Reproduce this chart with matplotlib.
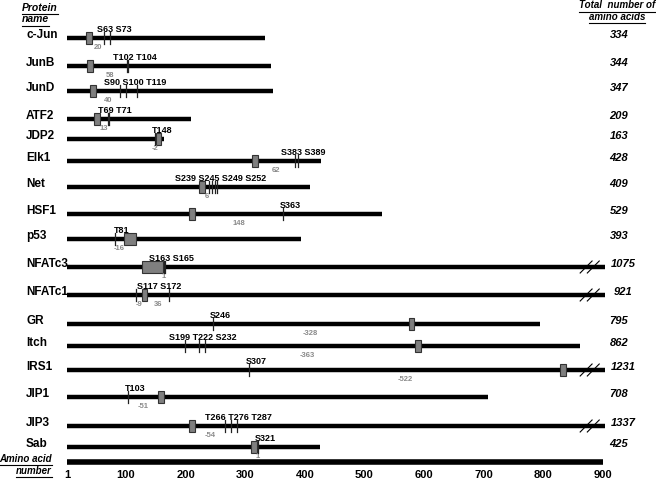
import matplotlib
matplotlib.use("Agg")
import matplotlib.pyplot as plt
from matplotlib.patches import Rectangle

plt.rcParams['font.family'] = ['Liberation Sans', 'DejaVu Sans']

# protein data
proteins = ['c-Jun', 'JunB', 'JunD', 'ATF2', 'JDP2', 'Elk1', 'Net', 'HSF1', 'p53',
            'NFATc3', 'NFATc1', 'GR', 'Itch', 'IRS1', 'JIP1', 'JIP3', 'Sab']
lengths = [334, 344, 347, 209, 163, 428, 409, 529, 393,
           1075, 921, 795, 862, 1231, 708, 1337, 425]
sites = [['S63', 'S73'], ['T102', 'T104'], ['S90', 'S100', 'T119'], ['T69', 'T71'],
         ['T148'], ['S383', 'S389'], ['S239', 'S245', 'S249', 'S252'], ['S363'],
         ['T81'], ['S163', 'S165'], ['S117', 'S172'], ['S246'],
         ['S199', 'T222', 'S232'], ['S307'], ['T103'], ['T266', 'T276', 'T287'], ['S321']]
# docking domain (start, end) in residues
domains = [(33, 43), (34, 44), (40, 50), (46, 56), (150, 159), (311, 321), (223, 233),
           (205, 215), (97, 117), (126, 162), (126, 136), (574, 584), (585, 595),
           (829, 839), (154, 164), (205, 215), (310, 320)]
# distance from domain to phosphosite: (site label, distance)
distances = [[('S63', 20)], [('T102', 58)], [('S90', 40)], [('T69', 13)], [('T148', -2)],
             [('S383', 62)], [('S239', 6)], [('S363', 148)], [('T81', -16)],
             [('S163', 1)], [('S117', -9), ('S172', 36)], [('S246', -328)],
             [('T222', -363)], [('S307', -522)], [('T103', -51)], [('T266', -54)],
             [('S321', 1)]]
axis_ticks = [1, 100, 200, 300, 400, 500, 600, 700, 800, 900]

# layout (pixel rows)
row_y = [38, 66, 91, 119, 139, 161, 187, 214, 239, 267, 295, 324, 346, 370, 397, 426, 447]
axis_y = 462
px = 0.596  # pixels per residue
x0 = 67     # pixel of residue 1
W, H = 656, 480

fig = plt.figure(figsize=(W / 100, H / 100), dpi=100)
ax = fig.add_axes([0, 0, 1, 1])
ax.set_xlim(1 - x0 / px, 1 + (W - x0) / px)
ax.set_ylim(H, 0)
ax.axis('off')


def p2aa(p):
    return 1 + (p - x0) / px


def underline(t, dy=1.0):
    fig.canvas.draw()
    bb = t.get_window_extent().transformed(ax.transData.inverted())
    y = max(bb.y0, bb.y1) + dy
    ax.plot([bb.x0, bb.x1], [y, y], color='black', lw=0.8)


for i, name in enumerate(proteins):
    y = row_y[i]
    L = lengths[i]
    end = min(L, 903)
    ax.plot([1, end], [y, y], color='black', lw=3.2, solid_capstyle='butt', zorder=2)
    if L > 900:
        for sx in (872, 884):
            ax.plot([sx - 10, sx + 10], [y + 6, y - 6], color='black', lw=0.8, zorder=4)
    # domain box
    ds, de = domains[i]
    ax.add_patch(Rectangle((ds, y - 6), de - ds, 12, facecolor='#7f7f7f',
                           edgecolor='#333333', lw=0.8, zorder=3))
    # phosphosites
    pos = [int(s[1:]) for s in sites[i]]
    for p in pos:
        ax.plot([p, p], [y - 6, y + 6], color='#222222', lw=0.9, zorder=4)
    xc = sum(pos) / len(pos) + 12
    ax.text(xc, y - 6, ' '.join(sites[i]), fontsize=6.5, fontweight='bold',
            ha='center', va='baseline', zorder=5)
    # distances
    for lab, d in distances[i]:
        s = int(lab[1:])
        edge = de if s > de else ds
        ax.text((s + edge) / 2, y + 6, str(d), fontsize=5.5, color='#8a8a8a',
                ha='center', va='top', fontweight='bold')
    # names and totals
    ax.text(p2aa(26), y - 3, name, fontsize=8.5, fontweight='bold', ha='left', va='center')
    tx = p2aa(623) if L > 900 else p2aa(619)
    ax.text(tx, y - 3, str(L), fontsize=8, fontweight='bold', style='italic',
            ha='center', va='center')

# amino acid axis
ax.plot([1, 900], [axis_y, axis_y], color='black', lw=4, solid_capstyle='butt')
for t in axis_ticks:
    ax.text(t, 474.5, str(t), fontsize=8, fontweight='bold', ha='center', va='center')

# headers
h1 = ax.text(p2aa(22), 8, 'Protein', fontsize=7.5, fontweight='bold', style='italic',
             ha='left', va='center')
h2 = ax.text(p2aa(22), 19.5, 'name', fontsize=7.5, fontweight='bold', style='italic',
             ha='left', va='center')
r1 = ax.text(p2aa(617), 5.5, 'Total  number of', fontsize=7, fontweight='bold',
             style='italic', ha='center', va='center')
r2 = ax.text(p2aa(617), 17, 'amino acids', fontsize=7, fontweight='bold',
             style='italic', ha='center', va='center')
b1 = ax.text(p2aa(52), 459, 'Amino acid', fontsize=7, fontweight='bold', style='italic',
             ha='right', va='center')
b2 = ax.text(p2aa(52), 471, 'number', fontsize=7, fontweight='bold', style='italic',
             ha='right', va='center')
for t in (h1, h2, r1, r2, b1, b2):
    underline(t)

fig.savefig('out.png', dpi=100)
